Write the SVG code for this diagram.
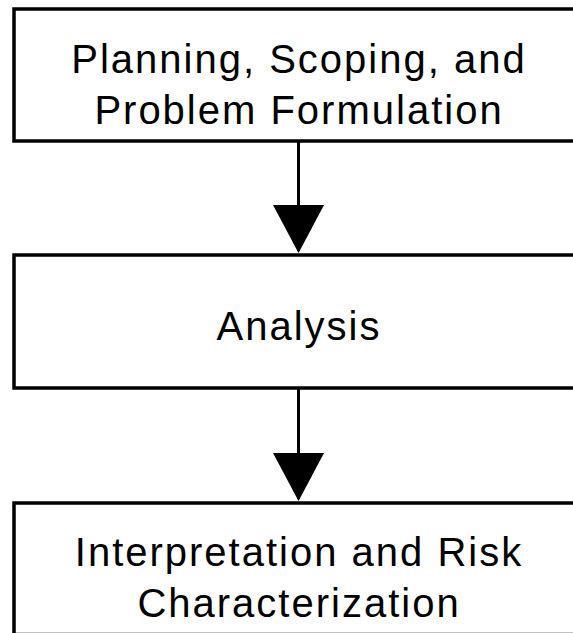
<svg xmlns="http://www.w3.org/2000/svg" width="573" height="633" viewBox="0 0 573 633">
  <style>
    .box { fill: #ffffff; stroke: #000000; stroke-width: 3.5; }
    .label { font-family: "Liberation Sans", Arial, sans-serif; font-size: 40px; letter-spacing: 2px; fill: #000000; text-anchor: middle; }
    .flow { stroke: #000000; stroke-width: 3; fill: none; marker-end: url(#head); }
  </style>
  <defs>
    <marker id="head" markerUnits="userSpaceOnUse" viewBox="0 0 48 51" refX="46" refY="25.5" markerWidth="48" markerHeight="51" orient="auto">
      <path d="M0,0 L48,25.5 L0,51 Z" fill="#000000"/>
    </marker>
  </defs>
  <rect width="573" height="633" fill="#ffffff"/>

  <g id="planning">
    <rect class="box" x="14" y="9" width="600" height="132"/>
    <text class="label" x="299" y="73">Planning, Scoping, and</text>
    <text class="label" x="299" y="124">Problem Formulation</text>
  </g>

  <g id="analysis">
    <rect class="box" x="14" y="255" width="600" height="133"/>
    <text class="label" x="299" y="340">Analysis</text>
  </g>

  <g id="interpretation">
    <rect class="box" x="14" y="503" width="600" height="131.5"/>
    <text class="label" x="299" y="566">Interpretation and Risk</text>
    <text class="label" x="299" y="617">Characterization</text>
  </g>

  <g id="connectors">
    <line class="flow" x1="298.5" y1="141" x2="298.5" y2="251"/>
    <line class="flow" x1="298.5" y1="388" x2="298.5" y2="499"/>
  </g>
</svg>
